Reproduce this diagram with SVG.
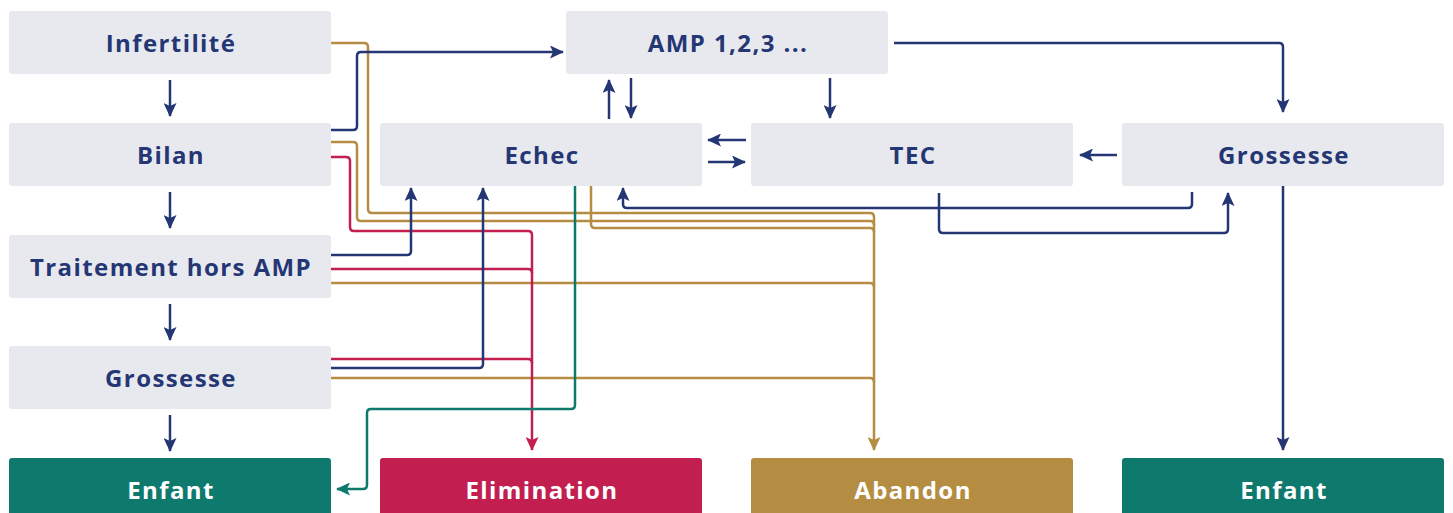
<svg xmlns="http://www.w3.org/2000/svg" width="1453" height="513" viewBox="0 0 1453 513">
<style>
.box{fill:#E8E9EF}
.t{font-family:"Open Sans","Liberation Sans",sans-serif;font-weight:700;font-size:24px;letter-spacing:1.4px;fill:#253674;text-anchor:middle}
.tw{fill:#FFFFFF}
.c{fill:none;stroke-width:2.5;stroke-linejoin:round;stroke-linecap:butt}
.n{stroke:#253674}
.r{stroke:#C21E4F}
.g{stroke:#B58D42}
.e{stroke:#0E7A6E}
</style>
<defs>
<marker id="an" viewBox="0 0 14 13" refX="13" refY="6.5" markerWidth="14" markerHeight="13" markerUnits="userSpaceOnUse" orient="auto"><path d="M0,0 L14,6.5 L0,13 L3,6.5 Z" fill="#253674"/></marker>
<marker id="ar" viewBox="0 0 14 13" refX="13" refY="6.5" markerWidth="14" markerHeight="13" markerUnits="userSpaceOnUse" orient="auto"><path d="M0,0 L14,6.5 L0,13 L3,6.5 Z" fill="#C21E4F"/></marker>
<marker id="ag" viewBox="0 0 14 13" refX="13" refY="6.5" markerWidth="14" markerHeight="13" markerUnits="userSpaceOnUse" orient="auto"><path d="M0,0 L14,6.5 L0,13 L3,6.5 Z" fill="#B58D42"/></marker>
<marker id="ae" viewBox="0 0 14 13" refX="13" refY="6.5" markerWidth="14" markerHeight="13" markerUnits="userSpaceOnUse" orient="auto"><path d="M0,0 L14,6.5 L0,13 L3,6.5 Z" fill="#0E7A6E"/></marker>
</defs>
<rect width="1453" height="513" fill="#FFFFFF"/>
<g id="connectors">
<path class="c g" d="M331,43 H364 Q368,43 368,47 V209 Q368,213 372,213 H870 Q874,213 874,217 V450" marker-end="url(#ag)"/>
<path class="c g" d="M331,142 H353 Q357,142 357,146 V217 Q357,221 361,221 H870 Q874,221 874,225"/>
<path class="c g" d="M591,186 V224 Q591,228 595,228 H870 Q874,228 874,232"/>
<path class="c g" d="M331,283 H870 Q874,283 874,287"/>
<path class="c g" d="M331,378 H870 Q874,378 874,382"/>
<path class="c r" d="M331,157 H346 Q350,157 350,161 V227 Q350,231 354,231 H528 Q532,231 532,235 V450" marker-end="url(#ar)"/>
<path class="c r" d="M331,269 H528 Q532,269 532,273"/>
<path class="c r" d="M331,359 H528 Q532,359 532,363"/>
<path class="c e" d="M575,186 V405 Q575,409 571,409 H371 Q367,409 367,413 V485 Q367,489 363,489 H337" marker-end="url(#ae)"/>
<path class="c n" d="M331,130 H353 Q357,130 357,126 V56 Q357,52 361,52 H563" marker-end="url(#an)"/>
<path class="c n" d="M331,255 H407 Q411,255 411,251 V188" marker-end="url(#an)"/>
<path class="c n" d="M331,368 H479 Q483,368 483,364 V188" marker-end="url(#an)"/>
<path class="c n" d="M1192,192 V204 Q1192,208 1188,208 H627 Q623,208 623,204 V188" marker-end="url(#an)"/>
<path class="c n" d="M939,193 V229 Q939,233 943,233 H1224 Q1228,233 1228,229 V193" marker-end="url(#an)"/>
<path class="c n" d="M894,43 H1279 Q1283,43 1283,47 V112" marker-end="url(#an)"/>
<path class="c n" d="M1283,186 V450" marker-end="url(#an)"/>
<path class="c n" d="M609,119 V80" marker-end="url(#an)"/>
<path class="c n" d="M631,78 V118" marker-end="url(#an)"/>
<path class="c n" d="M830,78 V118" marker-end="url(#an)"/>
<path class="c n" d="M746,140 H708" marker-end="url(#an)"/>
<path class="c n" d="M708,162 H745" marker-end="url(#an)"/>
<path class="c n" d="M1117,155 H1080" marker-end="url(#an)"/>
<path class="c n" d="M170,80 V116" marker-end="url(#an)"/>
<path class="c n" d="M170,192 V228" marker-end="url(#an)"/>
<path class="c n" d="M170,304 V340" marker-end="url(#an)"/>
<path class="c n" d="M170,415 V451" marker-end="url(#an)"/>
</g>
<g id="infertilite"><rect class="box" x="9" y="11" width="322" height="63" rx="3"/><text class="t" x="171" y="52">Infertilité</text></g>
<g id="bilan"><rect class="box" x="9" y="123" width="322" height="63" rx="3"/><text class="t" x="171" y="164">Bilan</text></g>
<g id="traitement"><rect class="box" x="9" y="235" width="322" height="63" rx="3"/><text class="t" x="171" y="276">Traitement hors AMP</text></g>
<g id="grossesse1"><rect class="box" x="9" y="346" width="322" height="63" rx="3"/><text class="t" x="171" y="387">Grossesse</text></g>
<g id="enfant1"><rect x="9" y="458" width="322" height="60" rx="3" fill="#0E7A6E"/><text class="t tw" x="171" y="499">Enfant</text></g>
<g id="amp"><rect class="box" x="566" y="11" width="322" height="63" rx="3"/><text class="t" x="728" y="52">AMP 1,2,3 ...</text></g>
<g id="echec"><rect class="box" x="380" y="123" width="322" height="63" rx="3"/><text class="t" x="542" y="164">Echec</text></g>
<g id="tec"><rect class="box" x="751" y="123" width="322" height="63" rx="3"/><text class="t" x="913" y="164">TEC</text></g>
<g id="grossesse2"><rect class="box" x="1122" y="123" width="322" height="63" rx="3"/><text class="t" x="1284" y="164">Grossesse</text></g>
<g id="elimination"><rect x="380" y="458" width="322" height="60" rx="3" fill="#C21E4F"/><text class="t tw" x="542" y="499">Elimination</text></g>
<g id="abandon"><rect x="751" y="458" width="322" height="60" rx="3" fill="#B58D42"/><text class="t tw" x="913" y="499">Abandon</text></g>
<g id="enfant2"><rect x="1122" y="458" width="322" height="60" rx="3" fill="#0E7A6E"/><text class="t tw" x="1284" y="499">Enfant</text></g>
</svg>
